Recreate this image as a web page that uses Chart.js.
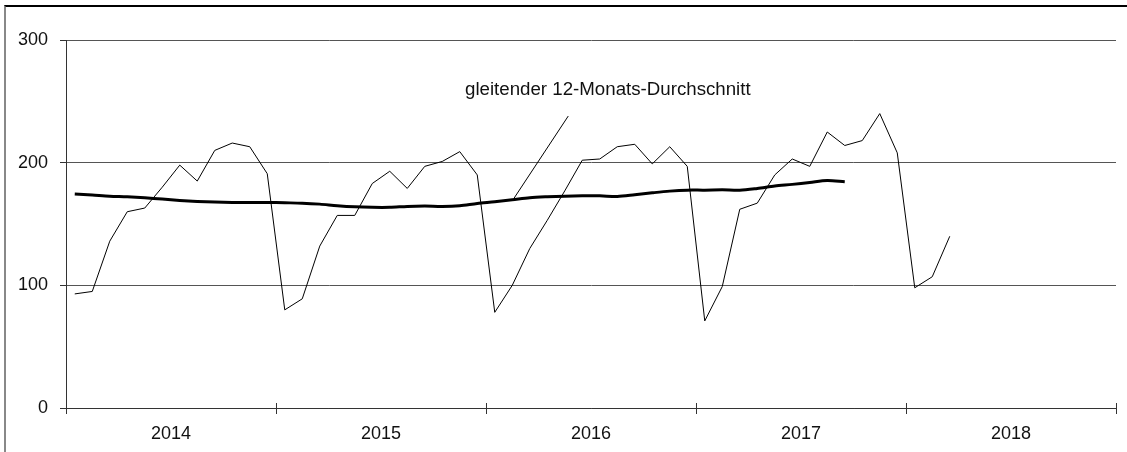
<!DOCTYPE html>
<html>
<head>
    <meta http-equiv="Content-Type" content="text/html; charset=UTF-8" />
    <script src="https://cdn.jsdelivr.net/npm/chart.js"></script>
    <title>Chart</title>
<style>
    body { margin:0; background:white; overflow:hidden; }
    #wrap { position:relative; width:1127px; height:452px; }
    #frame { position:absolute; left:4px; top:5px; right:0; bottom:0;
             border-top:2px solid #000; border-left:2px solid #888; }
    #myChart { position:absolute; left:0; top:0; }
</style>
</head>
<body>
<div id="wrap">
    <div id="frame"></div>
    <canvas id="myChart"></canvas>
</div>

<script>
    // monatswerte jan 2014 - mar 2018
    var months2014 = [93, 95, 136, 160, 163, 180, 198, 185, 210, 216, 213, 191];
    var months2015 = [80, 89, 132, 157, 157, 183, 193, 179, 197, 201, 209, 190];
    var months2016 = [78, 100, 130, 153, 177, 202, 203, 213, 215, 199, 213, 197];
    var months2017 = [71, 99, 162, 167, 190, 203, 197, 225, 214, 218, 240, 208];
    var months2018 = [98, 107, 140];

    // gleitender durchschnitt, jan 2014 - sep 2017
    var movingAvg = [
        174.4, 173.6, 172.7, 172.2, 171.4, 170.3, 169.2, 168.4, 167.9, 167.6, 167.6, 167.6,
        167.3, 167.0, 166.2, 164.9, 164.0, 163.6, 163.6, 164.3, 164.6, 164.3, 164.9, 166.8,
        168.1, 169.7, 171.4, 172.2, 172.7, 173.0, 173.0, 172.4, 173.8, 175.4, 176.8, 177.6,
        177.6, 177.9, 177.6, 179.0, 180.9, 182.3, 183.9, 185.5, 184.4
    ];

    var years = ['2014', '2015', '2016', '2017', '2018'];
    var yTicks = [0, 100, 200, 300];

    // beschriftung + zeigerlinie (in monaten / werten)
    var maLabel = 'gleitender 12-Monats-Durchschnitt';
    var maLabelPos = [22.8, 255.5];
    var leaderX = [25.6, 28.7];
    var leaderY = [171, 238];

    var monthly = [].concat(months2014, months2015, months2016, months2017, months2018);
    var toPoints = function(vals) {
        return vals.map(function(v, i) { return { x: i + 0.5, y: v }; });
    };
    var yearBounds = years.map(function(y, i) { return i * 12; }).concat([years.length * 12]);
    var yearMids = years.map(function(y, i) { return i * 12 + 6; });

    var FONT = '"Liberation Sans", Arial, sans-serif';

    var extras = {
        id: 'extras',
        afterDraw: function(chart) {
            var ctx = chart.ctx, sx = chart.scales.x, sy = chart.scales.y;
            var base = sy.getPixelForValue(0);
            ctx.save();
            ctx.strokeStyle = '#333';
            ctx.lineWidth = 1;
            yearBounds.forEach(function(v) {
                var px = Math.round(sx.getPixelForValue(v)) + 0.5;
                ctx.beginPath();
                ctx.moveTo(px, base - 5);
                ctx.lineTo(px, base + 6);
                ctx.stroke();
            });
            ctx.fillStyle = '#111';
            ctx.font = '18.7px ' + FONT;
            ctx.textBaseline = 'alphabetic';
            ctx.fillText(maLabel, sx.getPixelForValue(maLabelPos[0]), sy.getPixelForValue(maLabelPos[1]));
            ctx.restore();
        }
    };

    new Chart(document.getElementById('myChart'), {
        type: 'line',
        data: {
            datasets: [
                {
                    data: toPoints(monthly),
                    borderColor: '#000',
                    borderWidth: 1,
                    pointRadius: 0,
                    tension: 0
                },
                {
                    data: toPoints(movingAvg),
                    borderColor: '#000',
                    borderWidth: 3,
                    pointRadius: 0,
                    tension: 0.3
                },
                {
                    data: leaderX.map(function(x, i) { return { x: x, y: leaderY[i] }; }),
                    borderColor: '#000',
                    borderWidth: 1,
                    pointRadius: 0
                }
            ]
        },
        options: {
            responsive: true,
            maintainAspectRatio: false,
            animation: false,
            layout: { padding: { top: 40, right: 11, left: 0, bottom: 0 } },
            plugins: { legend: { display: false }, tooltip: { enabled: false } },
            scales: {
                x: {
                    type: 'linear',
                    min: 0,
                    max: years.length * 12,
                    grid: { display: false, drawTicks: false },
                    border: { color: '#333', width: 1 },
                    afterBuildTicks: function(scale) {
                        scale.ticks = yearMids.map(function(v) { return { value: v }; });
                    },
                    afterFit: function(scale) { scale.height = 44; },
                    ticks: {
                        autoSkip: false,
                        maxRotation: 0,
                        padding: 15,
                        color: '#111',
                        font: { size: 18, family: FONT },
                        callback: function(v) { return years[(v - 6) / 12]; }
                    }
                },
                y: {
                    min: 0,
                    max: 300,
                    afterBuildTicks: function(scale) {
                        scale.ticks = yTicks.map(function(v) { return { value: v }; });
                    },
                    afterFit: function(scale) { scale.width = 66; },
                    grid: { color: '#555', tickLength: 6, tickColor: '#333' },
                    border: { color: '#333', width: 1 },
                    ticks: {
                        padding: 12,
                        color: '#111',
                        font: { size: 18, family: FONT }
                    }
                }
            }
        },
        plugins: [extras]
    });
</script>
</body>
</html>
